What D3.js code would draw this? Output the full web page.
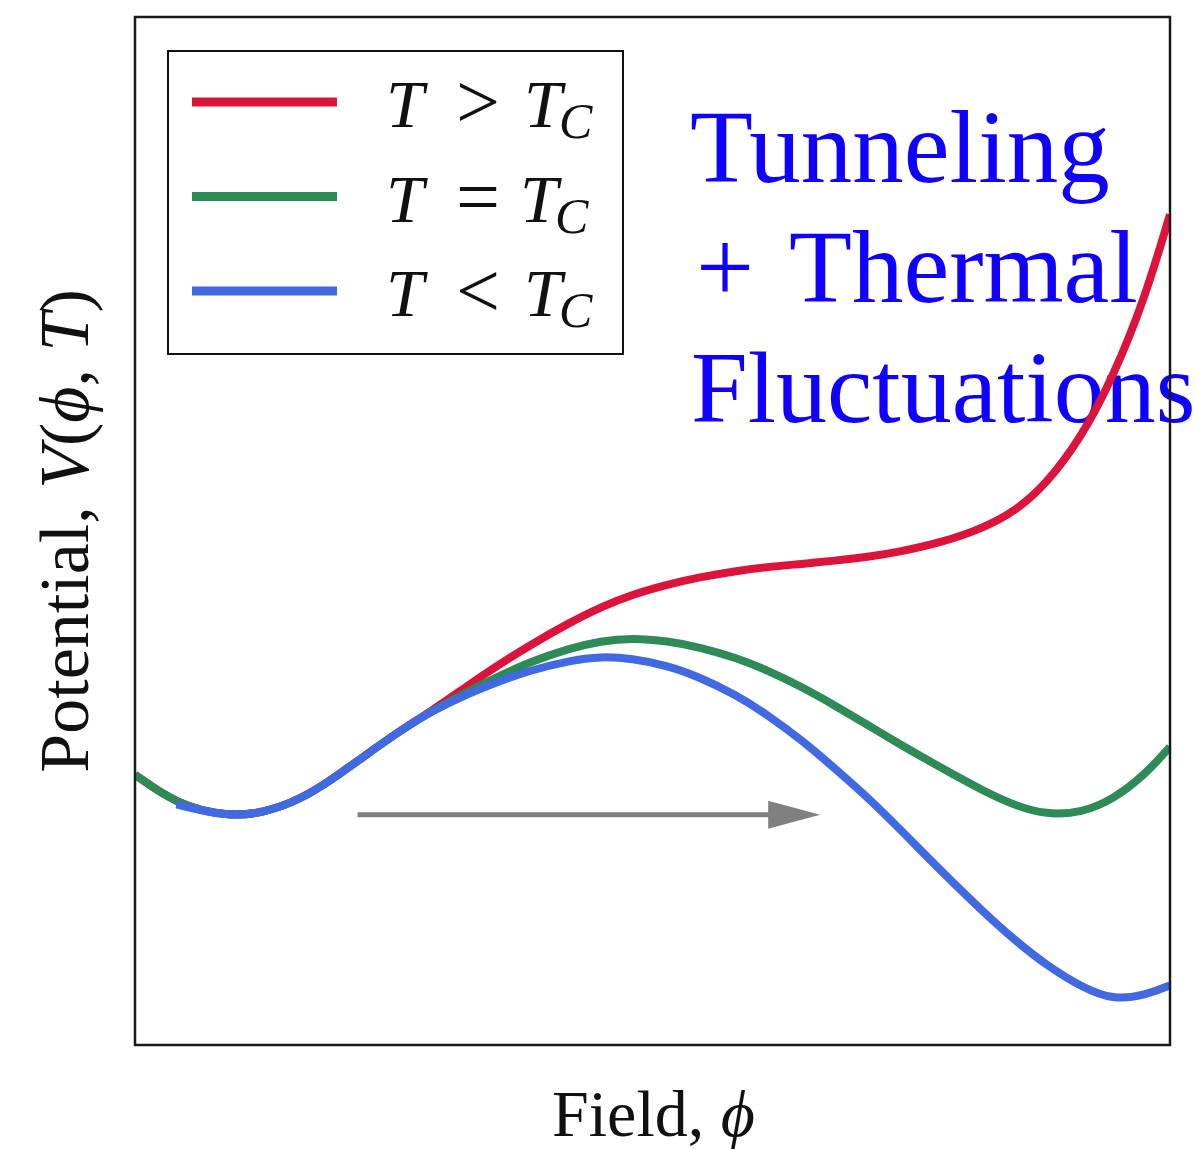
<!DOCTYPE html>
<html>
<head>
<meta charset="utf-8">
<script src="https://cdn.jsdelivr.net/npm/d3@7"></script>
<style>
  body { margin: 0; background: #fff; }
  text { font-family: "Liberation Serif", "DejaVu Serif", serif; }
</style>
</head>
<body>
<script>
// field values (arbitrary units) shared by all three curves
const phi = [0, 0.4, 0.9, 1.25, 1.6, 1.9, 2.2, 2.55, 2.85, 3.2, 3.5, 3.8, 4.2, 4.5, 4.8, 5.15,
  5.45, 5.8, 6.1, 6.45, 6.75, 7.1, 7.4, 7.8, 8.2, 8.5, 8.8, 9.15, 9.45, 9.75, 10];

// potential V(phi, T)
const vAbove = [2.63, 2.34, 2.22, 2.26, 2.39, 2.58, 2.80, 3.05, 3.24, 3.485, 3.69, 3.88, 4.11, 4.26, 4.38, 4.48,
  4.55, 4.61, 4.65, 4.68, 4.71, 4.75, 4.80, 4.89, 5.03, 5.19, 5.45, 5.92, 6.50, 7.24, 8.08];
const vCritical = [2.63, 2.34, 2.22, 2.26, 2.39, 2.58, 2.80, 3.05, 3.24, 3.43, 3.58, 3.72, 3.86, 3.93, 3.96, 3.93,
  3.87, 3.77, 3.65, 3.48, 3.31, 3.10, 2.92, 2.69, 2.47, 2.33, 2.24, 2.26, 2.39, 2.62, 2.90];
const vBelow = [null, 2.34, 2.22, 2.26, 2.39, 2.58, 2.80, 3.05, 3.24, 3.41, 3.53, 3.64, 3.74, 3.78, 3.76, 3.69,
  3.58, 3.41, 3.22, 2.96, 2.70, 2.39, 2.09, 1.68, 1.29, 1.02, 0.78, 0.56, 0.44, 0.48, 0.58];

const relations = [">", "=", "<"];
const colors = ["crimson", "seagreen", "royalblue"];
const arrowFrom = [2.15, 2.24];
const arrowTo = [6.62, 2.24];

const width = 1199, height = 1149;
const plotLeft = 135, plotRight = 1170, plotTop = 17, plotBottom = 1045;

const svg = d3.select("body").append("svg")
  .attr("width", width)
  .attr("height", height);

const x = d3.scaleLinear().domain([0, 10]).range([plotLeft, plotRight]);
const y = d3.scaleLinear().domain([0, 10]).range([plotBottom, plotTop]);

svg.append("clipPath").attr("id", "plot")
  .append("rect")
  .attr("x", plotLeft).attr("y", plotTop)
  .attr("width", plotRight - plotLeft).attr("height", plotBottom - plotTop);

// annotation text sits under the curves
const note = svg.append("text")
  .attr("fill", "#1000ff")
  .attr("font-size", 103);
note.append("tspan").attr("x", 690).attr("y", 182).text("Tunneling");
note.append("tspan").attr("x", 696).attr("y", 302).text("+");
note.append("tspan").attr("x", 789).attr("y", 302).text("Thermal");
note.append("tspan").attr("x", 691).attr("y", 422).attr("font-size", 102).text("Fluctuations");

const line = d3.line()
  .defined(d => d[1] != null)
  .x(d => x(d[0]))
  .y(d => y(d[1]))
  .curve(d3.curveBasis);

const series = [vAbove, vCritical, vBelow];
svg.append("g")
  .attr("clip-path", "url(#plot)")
  .selectAll("path")
  .data(series)
  .join("path")
  .attr("d", v => line(phi.map((p, i) => [p, v[i]])))
  .attr("fill", "none")
  .attr("stroke", (d, i) => colors[i])
  .attr("stroke-width", 8);

// arrow
const headLen = 52, headHalf = 14;
const ax0 = x(arrowFrom[0]), ax1 = x(arrowTo[0]), ay = y(arrowFrom[1]);
svg.append("line")
  .attr("x1", ax0).attr("x2", ax1 - headLen + 2)
  .attr("y1", ay).attr("y2", ay)
  .attr("stroke", "#808080")
  .attr("stroke-width", 5);
svg.append("path")
  .attr("d", `M${ax1},${ay}L${ax1 - headLen},${ay - headHalf}L${ax1 - headLen},${ay + headHalf}Z`)
  .attr("fill", "#808080");

// frame
svg.append("rect")
  .attr("x", plotLeft).attr("y", plotTop)
  .attr("width", plotRight - plotLeft).attr("height", plotBottom - plotTop)
  .attr("fill", "none")
  .attr("stroke", "#1a1a1a")
  .attr("stroke-width", 2.5);

// legend
const lg = svg.append("g");
lg.append("rect")
  .attr("x", 168).attr("y", 51)
  .attr("width", 455).attr("height", 303)
  .attr("fill", "#fff")
  .attr("stroke", "#111")
  .attr("stroke-width", 2);

relations.forEach((r, i) => {
  const ly = 102 + i * 94.5;
  lg.append("line")
    .attr("x1", 192).attr("x2", 337)
    .attr("y1", ly).attr("y2", ly)
    .attr("stroke", colors[i])
    .attr("stroke-width", 9);
  const t = lg.append("text").attr("font-size", 68).attr("fill", "#111");
  t.append("tspan").attr("x", 386).attr("y", ly + 25).attr("font-style", "italic").text("T");
  t.append("tspan").attr("x", 456).attr("y", ly + 26).attr("font-size", 78).text(r);
  t.append("tspan").attr("x", i == 1 ? 520 : 524).attr("y", ly + 25).attr("font-style", "italic").text("T");
  t.append("tspan").attr("x", i == 1 ? 555 : 559).attr("y", ly + 36)
    .attr("font-style", "italic").attr("font-size", 50).text("C");
});

// axis labels
const xl = svg.append("text")
  .attr("x", (plotLeft + plotRight) / 2 + 1)
  .attr("y", 1136)
  .attr("text-anchor", "middle")
  .attr("font-size", 66)
  .attr("fill", "#111");
xl.append("tspan").text("Field, ");
xl.append("tspan").attr("font-style", "italic").text("ϕ");

const yl = svg.append("text")
  .attr("transform", `translate(88,${(plotTop + plotBottom) / 2}) rotate(-90)`)
  .attr("text-anchor", "middle")
  .attr("font-size", 70)
  .attr("fill", "#111");
yl.append("tspan").text("Potential, ");
yl.append("tspan").attr("font-style", "italic").text("V");
yl.append("tspan").text("(");
yl.append("tspan").attr("font-style", "italic").text("ϕ");
yl.append("tspan").text(", ");
yl.append("tspan").attr("font-style", "italic").text("T");
yl.append("tspan").text(")");
</script>
</body>
</html>
